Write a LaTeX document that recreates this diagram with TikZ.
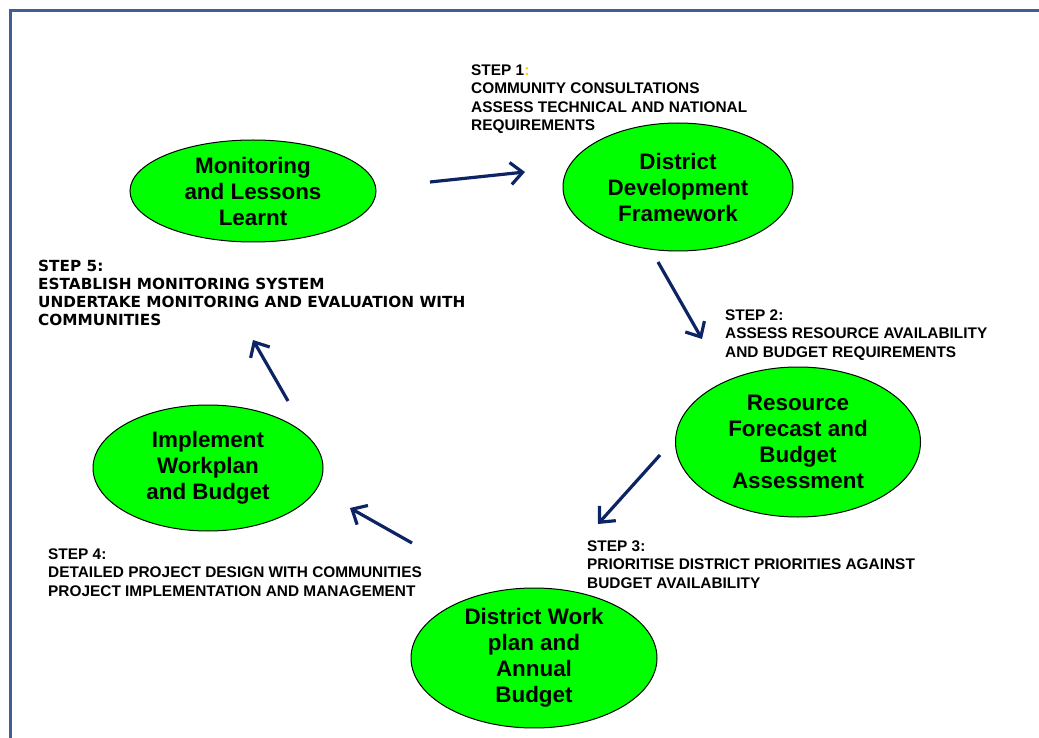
\documentclass[tikz,border=0pt]{standalone}
\usepackage{fontspec}
\setmainfont{Liberation Sans}
\newfontfamily\comicfont{DejaVu Sans}
\usetikzlibrary{shapes.geometric,arrows.meta}
\definecolor{frameblue}{RGB}{62,96,146}
\definecolor{arrownavy}{RGB}{12,35,100}
\definecolor{stepyellow}{RGB}{255,204,0}
\tikzset{
  stage/.style={ellipse,draw=black,line width=1pt,fill=green,inner sep=0pt,align=center,
    font=\fontsize{22.4}{26}\selectfont\bfseries},
  steptext/.style={anchor=north west,inner sep=0pt,align=left,
    font=\fontsize{15.4}{18.5}\selectfont\bfseries},
  flow/.style={draw=arrownavy,line width=3.2pt,-{Straight Barb[length=12pt,width=22pt]}}
}
\begin{document}
\begin{tikzpicture}[x=1pt,y=-1pt]
\useasboundingbox (0,0) rectangle (1039,738);
\draw[frameblue,line width=3pt] (10.5,738) -- (10.5,10.5) -- (1039,10.5);

\node[stage,minimum width=246pt,minimum height=102pt] (mon) at (253,191) {Monitoring\\and Lessons\\Learnt};
\node[stage,minimum width=230pt,minimum height=128pt] (ddf) at (678,187) {District\\Development\\Framework};
\node[stage,minimum width=245pt,minimum height=150pt] (rfba) at (798,442) {Resource\\Forecast and\\Budget\\Assessment};
\node[stage,minimum width=246pt,minimum height=132pt] (dwp) at (534,658) {District Work\\plan and\\Annual\\Budget};
\node[stage,minimum width=230pt,minimum height=126pt] (iwb) at (208,468) {Implement\\Workplan\\and Budget};

\node[steptext] (s1) at (471,64.5) {STEP 1\textcolor{stepyellow}{:}\\COMMUNITY CONSULTATIONS\\ASSESS TECHNICAL AND NATIONAL\\REQUIREMENTS};
\node[steptext] (s2) at (725,309.5) {STEP 2:\\ASSESS RESOURCE AVAILABILITY\\AND BUDGET REQUIREMENTS};
\node[steptext] (s3) at (587,540.5) {STEP 3:\\PRIORITISE DISTRICT PRIORITIES AGAINST\\BUDGET AVAILABILITY};
\node[steptext] (s4) at (48,548.5) {STEP 4:\\DETAILED PROJECT DESIGN WITH COMMUNITIES\\PROJECT IMPLEMENTATION AND MANAGEMENT};
\node[steptext,font=\comicfont\fontsize{15.3}{18.3}\selectfont\bfseries] (s5) at (38,259.5) {STEP 5:\\ESTABLISH MONITORING SYSTEM\\UNDERTAKE MONITORING AND EVALUATION WITH\\COMMUNITIES};

\coordinate (a1s) at (430,182);
\coordinate (a1e) at (525,172);
\coordinate (a2s) at (658,262);
\coordinate (a2e) at (702,339);
\coordinate (a3s) at (660,455);
\coordinate (a3e) at (598,524);
\coordinate (a4s) at (412,543);
\coordinate (a4e) at (350,508);
\coordinate (a5s) at (288,401);
\coordinate (a5e) at (253,340);
\draw[flow] (a1s) -- (a1e);
\draw[flow] (a2s) -- (a2e);
\draw[flow] (a3s) -- (a3e);
\draw[flow] (a4s) -- (a4e);
\draw[flow] (a5s) -- (a5e);
\end{tikzpicture}
\end{document}
